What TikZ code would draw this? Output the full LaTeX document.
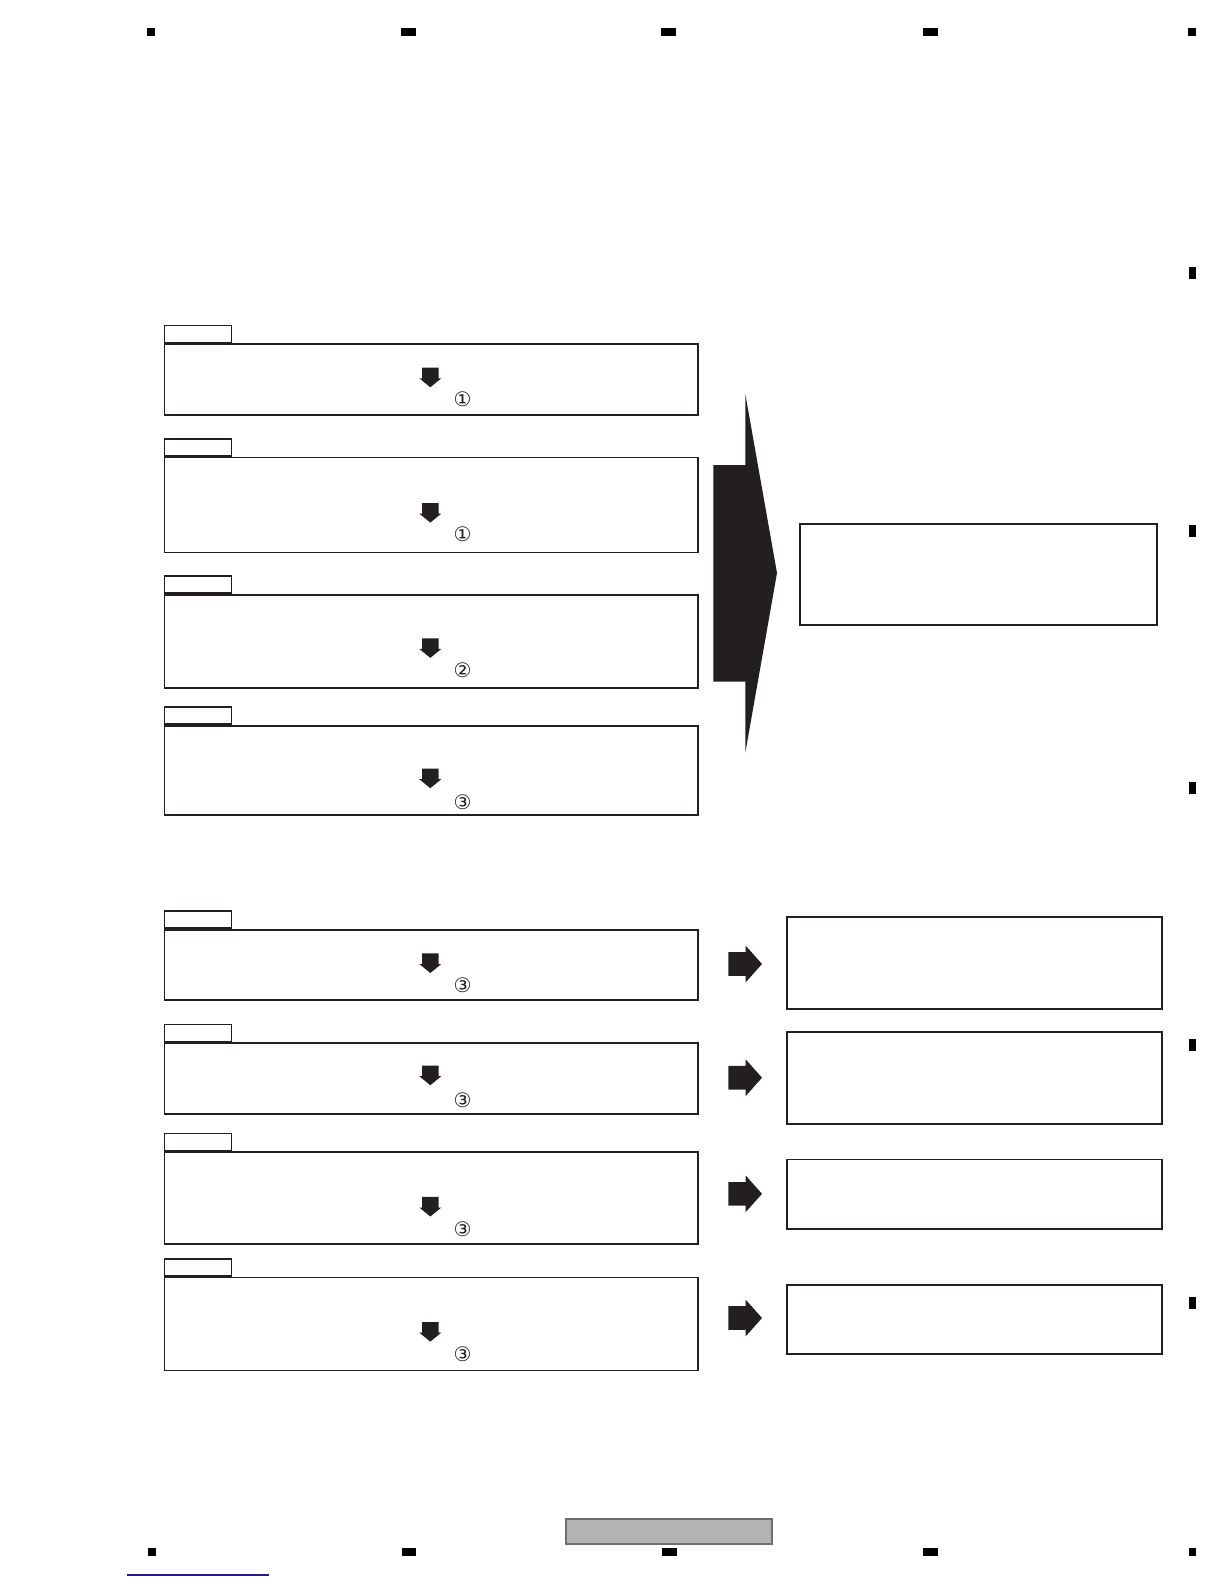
\documentclass[tikz,border=0pt]{standalone}
\usepackage{fontspec}
\newfontfamily\symfont{DejaVu Sans}
\definecolor{ink}{RGB}{35,31,32}
\definecolor{footgray}{RGB}{179,179,179}
\definecolor{footedge}{RGB}{110,110,110}
\definecolor{linkblue}{RGB}{30,30,140}
\tikzset{
  downarr/.pic = {\fill[ink] (-8.3,0) -- (8.3,0) -- (8.3,10.6) -- (11,10.6) -- (0,19.6) -- (-11,10.6) -- (-8.3,10.6) -- cycle;},
  rightarr/.pic = {\fill[ink] (0,-11.8) -- (17.4,-11.8) -- (17.4,-18.3) -- (33.7,0) -- (17.4,18.3) -- (17.4,11.8) -- (0,11.8) -- cycle;}
}
\begin{document}
\begin{tikzpicture}[x=0.5pt, y=-0.5pt,
    panel/.style = {draw=ink, line width=0.9pt, anchor=north west, minimum width=266.75pt, inner sep=0pt},
    tab/.style = {draw=ink, line width=0.8pt, anchor=south west, minimum width=33.6pt, minimum height=8.5pt, inner sep=0pt},
    result/.style = {draw=ink, line width=0.9pt, anchor=north west, inner sep=0pt},
    num/.style = {font=\symfont\fontsize{10}{10}\selectfont, inner sep=0pt, text=ink},
    regmark/.style = {fill=black}]
    \useasboundingbox (0,0) rectangle (1224,1584);

    %upper group
    \node[panel, minimum height=35.35pt] (p1) at (163.5,343.3) {};
    \node[tab] (t1) at (p1.north west) {};
    \pic (a1) at (430.3,367.7) {downarr};
    \node[num] (n1) at (462.7,399) {①};

    \node[panel, minimum height=47.5pt] (p2) at (163.5,456.5) {};
    \node[tab] (t2) at (p2.north west) {};
    \pic (a2) at (430.3,503) {downarr};
    \node[num] (n2) at (462.7,534.3) {①};

    \node[panel, minimum height=46.4pt] (p3) at (163.5,594) {};
    \node[tab] (t3) at (p3.north west) {};
    \pic (a3) at (430.3,638.3) {downarr};
    \node[num] (n3) at (462.7,670.6) {②};

    \node[panel, minimum height=44.5pt] (p4) at (163.5,725) {};
    \node[tab] (t4) at (p4.north west) {};
    \pic (a4) at (430.3,768.6) {downarr};
    \node[num] (n4) at (462.7,802) {③};

    %big arrow and result
    \fill[ink] (713.3,465) -- (745.3,465) -- (745.3,394) -- (777,573) -- (745.3,752.7) -- (745.3,681.7) -- (713.3,681.7) -- cycle;
    \node[result, minimum width=178.65pt, minimum height=50.65pt] (r0) at (798.7,522.7) {};

    %lower group
    \node[panel, minimum height=35pt] (p5) at (163.5,929) {};
    \node[tab] (t5) at (p5.north west) {};
    \pic (a5) at (430.3,953.4) {downarr};
    \node[num] (n5) at (462.7,984.8) {③};
    \pic (g5) at (728.3,964) {rightarr};
    \node[result, minimum width=187.65pt, minimum height=46pt] (r5) at (785.7,915.7) {};

    \node[panel, minimum height=35.35pt] (p6) at (163.5,1042.3) {};
    \node[tab] (t6) at (p6.north west) {};
    \pic (a6) at (430.3,1065.6) {downarr};
    \node[num] (n6) at (462.7,1100) {③};
    \pic (g6) at (728.3,1077.7) {rightarr};
    \node[result, minimum width=187.65pt, minimum height=45.9pt] (r6) at (785.7,1031.2) {};

    \node[panel, minimum height=45.95pt] (p7) at (163.5,1151.4) {};
    \node[tab] (t7) at (p7.north west) {};
    \pic (a7) at (430.3,1196.9) {downarr};
    \node[num] (n7) at (462.7,1229.2) {③};
    \pic (g7) at (728.3,1193.8) {rightarr};
    \node[result, minimum width=187.65pt, minimum height=34.75pt] (r7) at (785.7,1158.5) {};

    \node[panel, minimum height=46.5pt] (p8) at (163.5,1276.6) {};
    \node[tab] (t8) at (p8.north west) {};
    \pic (a8) at (430.3,1322) {downarr};
    \node[num] (n8) at (462.7,1354.4) {③};
    \pic (g8) at (728.3,1318) {rightarr};
    \node[result, minimum width=187.65pt, minimum height=34.85pt] (r8) at (785.7,1283.7) {};

    %page marks
    \fill[regmark] (147,28.3) rectangle (155,35.7);
    \fill[regmark] (401,28.3) rectangle (415.5,35.7);
    \fill[regmark] (661,28.3) rectangle (676,35.7);
    \fill[regmark] (922.5,28.3) rectangle (937.5,35.7);
    \fill[regmark] (1188,28.3) rectangle (1196,35.7);
    \fill[regmark] (148,1548) rectangle (156,1556);
    \fill[regmark] (402,1548) rectangle (416,1556);
    \fill[regmark] (662,1548) rectangle (677,1556);
    \fill[regmark] (923,1548) rectangle (938,1556);
    \fill[regmark] (1189,1548) rectangle (1196,1556);
    \fill[regmark] (1189,266.7) rectangle (1196,278.7);
    \fill[regmark] (1189,525) rectangle (1196,537);
    \fill[regmark] (1189,781.8) rectangle (1196,793.8);
    \fill[regmark] (1189,1039) rectangle (1196,1051);
    \fill[regmark] (1189,1296.7) rectangle (1196,1308.7);

    %footer
    \draw[footedge, fill=footgray, line width=0.6pt] (566,1519) rectangle (772,1544);
    \draw[linkblue, line width=0.6pt] (127,1575) -- (269,1575);
\end{tikzpicture}
\end{document}
